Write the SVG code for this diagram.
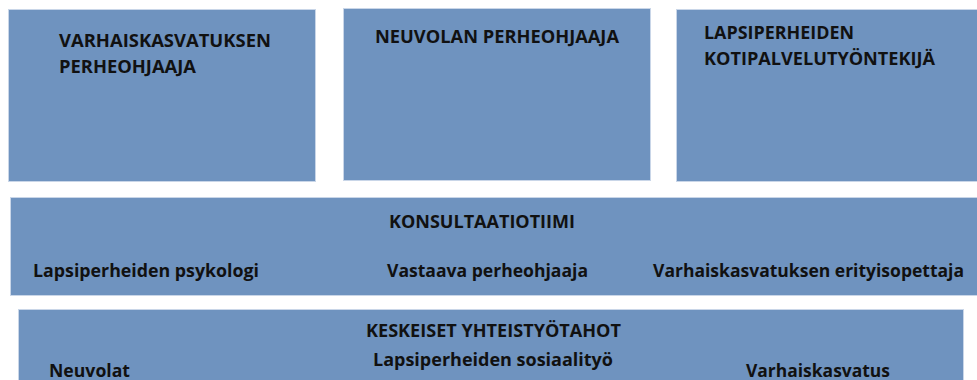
<svg xmlns="http://www.w3.org/2000/svg" width="977" height="380" viewBox="0 0 977 380">
<style>
.box{fill:#6f93bf;stroke:#c9d6e8;stroke-width:1}
.t{font-family:"Open Sans","Liberation Sans",sans-serif;font-weight:bold;font-size:18px;fill:#111}
</style>
<rect width="977" height="380" fill="#ffffff"/>
<g id="varhaiskasvatuksen-perheohjaaja">
<rect class="box" x="8.5" y="9.5" width="307" height="172"/>
<text class="t" x="59" y="47" textLength="212" lengthAdjust="spacingAndGlyphs">VARHAISKASVATUKSEN</text>
<text class="t" x="59" y="73" textLength="137" lengthAdjust="spacingAndGlyphs">PERHEOHJAAJA</text>
</g>
<g id="neuvolan-perheohjaaja">
<rect class="box" x="343.5" y="8.5" width="307" height="172"/>
<text class="t" x="375" y="43" textLength="244" lengthAdjust="spacingAndGlyphs">NEUVOLAN PERHEOHJAAJA</text>
</g>
<g id="lapsiperheiden-kotipalvelutyontekija">
<rect class="box" x="676.5" y="9.5" width="310" height="172"/>
<text class="t" x="704" y="39" textLength="150" lengthAdjust="spacingAndGlyphs">LAPSIPERHEIDEN</text>
<text class="t" x="704" y="65" textLength="231" lengthAdjust="spacingAndGlyphs">KOTIPALVELUTYÖNTEKIJÄ</text>
</g>
<g id="konsultaatiotiimi">
<rect class="box" x="10.5" y="197.5" width="976" height="98"/>
<text class="t" x="389" y="228" textLength="186" lengthAdjust="spacingAndGlyphs">KONSULTAATIOTIIMI</text>
<text class="t" x="33" y="277" textLength="226" lengthAdjust="spacingAndGlyphs">Lapsiperheiden psykologi</text>
<text class="t" x="387" y="277" textLength="201" lengthAdjust="spacingAndGlyphs">Vastaava perheohjaaja</text>
<text class="t" x="653" y="277" textLength="311" lengthAdjust="spacingAndGlyphs">Varhaiskasvatuksen erityisopettaja</text>
</g>
<g id="keskeiset-yhteistyotahot">
<rect class="box" x="18.5" y="309.5" width="945" height="80"/>
<text class="t" x="366" y="337" textLength="255" lengthAdjust="spacingAndGlyphs">KESKEISET YHTEISTYÖTAHOT</text>
<text class="t" x="373" y="366" textLength="240" lengthAdjust="spacingAndGlyphs">Lapsiperheiden sosiaalityö</text>
<text class="t" x="49" y="377" textLength="81" lengthAdjust="spacingAndGlyphs">Neuvolat</text>
<text class="t" x="746" y="377" textLength="144" lengthAdjust="spacingAndGlyphs">Varhaiskasvatus</text>
</g>
<g id="connectors"></g>
</svg>
